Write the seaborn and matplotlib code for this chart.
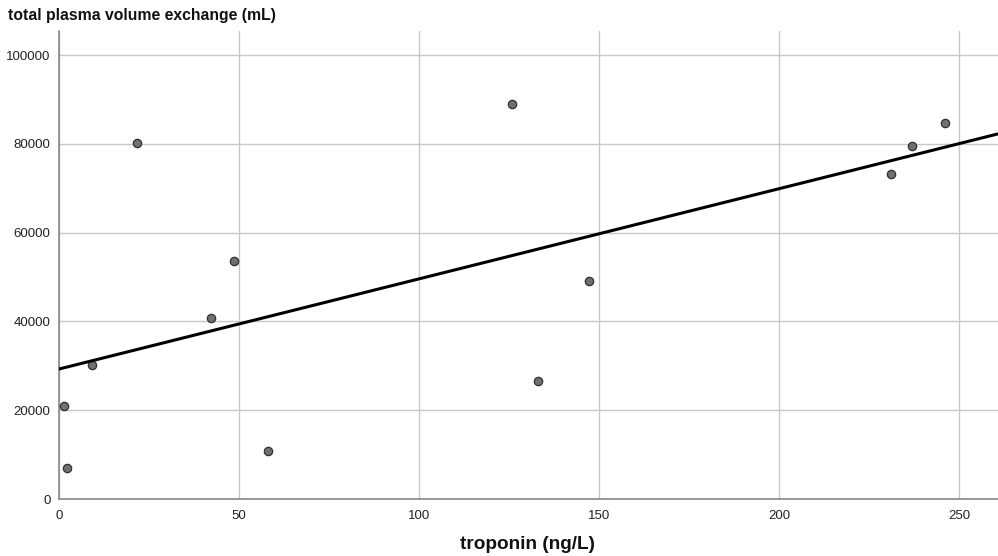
import matplotlib
matplotlib.use("Agg")
import matplotlib.pyplot as plt
import pandas as pd
import seaborn as sns

# values
troponin = [1.5, 2.2, 9.3, 21.6, 42.2, 48.7, 58.2, 125.8, 133.1, 147.1, 231.0, 237.0, 246.0]
plasma_exchange = [20970, 6900, 30110, 80180, 40740, 53670, 10720, 88960, 26580, 49030, 73200, 79500, 84700]
x_ticks = [0, 50, 100, 150, 200, 250]
y_ticks = [0, 20000, 40000, 60000, 80000, 100000]

df = pd.DataFrame({"troponin": troponin, "plasma": plasma_exchange})

sns.set_style("white")
plt.rcParams["font.family"] = ["Liberation Sans", "DejaVu Sans"]

fig = plt.figure(figsize=(9.98, 5.56), dpi=100)
ax = fig.add_axes([0.059, 0.1025, 0.941, 0.8417])
ax.set_xlim(0, 260.8)
ax.set_ylim(0, 105400)

sns.regplot(data=df, x="troponin", y="plasma", ax=ax, ci=None, truncate=False,
            scatter_kws={"s": 36, "color": "#707070", "edgecolor": "#303030", "linewidths": 0.9, "alpha": 1, "zorder": 3},
            line_kws={"color": "black", "linewidth": 2.2, "zorder": 4})

ax.set_xticks(x_ticks)
ax.set_yticks(y_ticks)
ax.grid(True, color="#c8c8c8", linewidth=1)
ax.set_axisbelow(True)
ax.tick_params(axis="both", length=0, labelsize=9.5, colors="#222222")
ax.tick_params(axis="y", pad=6)
ax.tick_params(axis="x", pad=8)

for side in ["top", "right"]:
    ax.spines[side].set_visible(False)
for side in ["left", "bottom"]:
    ax.spines[side].set_color("#888888")
    ax.spines[side].set_linewidth(1.2)

ax.set_ylabel("")
ax.set_xlabel("")
fig.text(0.529, 0.013, "troponin (ng/L)", fontsize=13.7, fontweight="bold", ha="center", va="baseline", color="#111111")
fig.text(0.008, 0.972, "total plasma volume exchange (mL)", fontsize=11.3, fontweight="bold", va="center", ha="left", color="#111111")

fig.savefig("out.png", dpi=100)
